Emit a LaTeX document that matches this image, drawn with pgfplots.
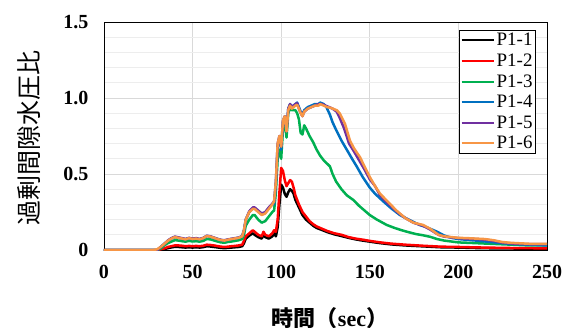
\documentclass[border=0pt]{standalone}
\usepackage{fontspec}
\setmainfont{Liberation Serif}
\newfontfamily\jp{Noto Sans CJK JP}
\usepackage{pgfplots}
\pgfplotsset{compat=1.18}
\definecolor{cgreen}{HTML}{00B050}
\definecolor{cblue}{HTML}{0070C0}
\definecolor{cpurple}{HTML}{7030A0}
\definecolor{corange}{HTML}{F79646}
\begin{document}
\begin{tikzpicture}[x=1pt,y=1pt]
\begin{axis}[
  at={(0,0)}, anchor=origin,
  scale only axis, width=443pt, height=228pt,
  xmin=0, xmax=250, ymin=0, ymax=1.5,
  xtick={0,50,...,250}, ytick={0,0.5,1.0,1.5},
  yticklabels={0,0.5,1.0,1.5},
  minor y tick num=4,
  xmajorgrids, ymajorgrids, yminorgrids,
  major grid style={draw=black!15, line width=0.8pt},
  minor grid style={draw=black!7, line width=0.8pt},
  major tick length=0pt, minor tick length=0pt,
  axis line style={black, line width=0.9pt},
  /pgf/number format/assume math mode=true,
  ticklabel style={font=\fontsize{20}{24}\selectfont\bfseries},
  yticklabel style={xshift=-12pt},
  xticklabel style={yshift=-12pt},
  scaled ticks=false,
  legend style={at={(0.975,0.965)}, anchor=north east, draw=black, line width=0.8pt,
    font=\fontsize{19}{20}\selectfont, inner sep=1pt, row sep=2.5pt},
  legend cell align=left,
  legend image code/.code={\draw[#1, line width=2pt] (0pt,0pt) -- (32pt,0pt);},
  every axis plot/.append style={line width=2.5pt, line join=round},
  clip=true,
]
% P1-1
\addplot[black] coordinates {
(0,0) (30,0) (32,0.003) (34,0.006) (36,0.012) (38,0.017) (40,0.021) (42,0.02) (44,0.018) (46,0.016) (48,0.018) (50,0.016) (52,0.018) (54,0.016) (56,0.019) (58,0.025) (60,0.023) (62,0.02) (64,0.017) (66,0.014) (68,0.012) (70,0.014) (72,0.016) (74,0.018) (76,0.02) (78,0.025) (79,0.045) (80,0.075) (82,0.095) (84,0.11) (85,0.1) (87,0.085) (89,0.075) (90,0.1) (91,0.085) (93,0.075) (95,0.09) (96,0.11) (97,0.09) (98,0.15) (99,0.3) (100,0.43) (101,0.41) (102,0.37) (103,0.35) (104,0.38) (105,0.4) (106,0.39) (107,0.37) (108,0.33) (110,0.28) (112,0.23) (114,0.2) (116,0.18) (118,0.16) (120,0.145) (123,0.132) (126,0.118) (130,0.103) (134,0.092) (138,0.08) (142,0.07) (146,0.062) (150,0.055) (156,0.045) (162,0.037) (170,0.03) (180,0.024) (190,0.018) (200,0.016) (210,0.013) (220,0.011) (230,0.01) (240,0.009) (250,0.008)
};
\addlegendentry{P1-1}
% P1-2
\addplot[red] coordinates {
(0,0) (30,0) (32,0.005) (34,0.01) (36,0.02) (38,0.025) (40,0.03) (42,0.03) (44,0.028) (46,0.025) (48,0.027) (50,0.025) (52,0.027) (54,0.025) (56,0.028) (58,0.035) (60,0.033) (62,0.03) (64,0.026) (66,0.022) (68,0.02) (70,0.022) (72,0.025) (74,0.027) (76,0.03) (78,0.035) (79,0.06) (80,0.09) (82,0.11) (84,0.13) (85,0.12) (87,0.1) (89,0.09) (90,0.12) (91,0.1) (93,0.09) (95,0.11) (96,0.13) (97,0.12) (98,0.2) (99,0.38) (100,0.54) (101,0.52) (102,0.46) (103,0.42) (104,0.44) (105,0.46) (106,0.45) (107,0.41) (108,0.36) (110,0.3) (112,0.25) (114,0.22) (116,0.19) (118,0.17) (120,0.155) (123,0.14) (126,0.125) (130,0.11) (134,0.1) (138,0.085) (142,0.075) (146,0.068) (150,0.06) (156,0.05) (162,0.042) (170,0.035) (180,0.028) (190,0.022) (200,0.02) (210,0.017) (220,0.015) (230,0.013) (240,0.012) (250,0.01)
};
\addlegendentry{P1-2}
% P1-3
\addplot[cgreen] coordinates {
(0,0) (30,0) (32,0.01) (34,0.03) (36,0.045) (38,0.055) (40,0.065) (42,0.062) (44,0.058) (46,0.055) (48,0.06) (50,0.056) (52,0.058) (54,0.055) (56,0.06) (58,0.072) (60,0.07) (62,0.063) (64,0.056) (66,0.05) (68,0.048) (70,0.053) (72,0.056) (74,0.06) (76,0.064) (78,0.072) (79,0.1) (80,0.16) (82,0.2) (84,0.23) (85,0.23) (87,0.2) (89,0.18) (91,0.19) (93,0.22) (95,0.25) (96,0.26) (97,0.38) (98,0.6) (99,0.66) (100,0.6) (101,0.8) (102,0.84) (103,0.74) (104,0.9) (105,0.93) (106,0.92) (108,0.92) (109,0.9) (110,0.86) (111,0.77) (112,0.76) (113,0.82) (114,0.8) (116,0.75) (118,0.71) (120,0.66) (122,0.62) (124,0.59) (127.5,0.55) (129,0.5) (131,0.45) (134,0.4) (137,0.36) (140.6,0.33) (144,0.29) (147,0.26) (150,0.23) (154,0.2) (159.5,0.165) (164,0.145) (168,0.13) (171,0.12) (176,0.105) (180,0.097) (184,0.087) (188,0.072) (192,0.062) (196,0.056) (200,0.05) (210,0.045) (220,0.04) (230,0.035) (240,0.03) (250,0.03)
};
\addlegendentry{P1-3}
% P1-4
\addplot[cblue] coordinates {
(0,0) (30,0) (32,0.02) (34,0.04) (36,0.06) (38,0.075) (40,0.085) (42,0.08) (44,0.075) (46,0.07) (48,0.078) (50,0.072) (52,0.075) (54,0.07) (56,0.078) (58,0.092) (60,0.088) (62,0.08) (64,0.072) (66,0.065) (68,0.062) (70,0.068) (72,0.072) (74,0.076) (76,0.08) (78,0.09) (79,0.13) (80,0.2) (82,0.25) (84,0.275) (85,0.275) (87,0.255) (89,0.235) (91,0.245) (93,0.275) (95,0.3) (96,0.3) (97,0.43) (98,0.68) (99,0.74) (100,0.66) (101,0.84) (102,0.88) (103,0.78) (104,0.93) (105,0.96) (106,0.94) (108,0.96) (109,0.97) (110,0.94) (111,0.91) (112,0.89) (113,0.92) (115,0.94) (117,0.95) (119,0.96) (121,0.96) (122,0.97) (124,0.96) (125.5,0.94) (127.5,0.89) (129,0.84) (131,0.79) (134,0.72) (137,0.66) (140,0.6) (142.6,0.55) (146,0.48) (150,0.41) (153,0.37) (157.6,0.32) (162,0.275) (167,0.23) (172,0.2) (178,0.165) (182,0.15) (188,0.12) (192,0.095) (196,0.08) (200,0.072) (210,0.062) (220,0.05) (230,0.04) (240,0.035) (250,0.03)
};
\addlegendentry{P1-4}
% P1-5
\addplot[cpurple] coordinates {
(0,0) (30,0) (32,0.02) (34,0.04) (36,0.062) (38,0.078) (40,0.088) (42,0.083) (44,0.078) (46,0.073) (48,0.08) (50,0.075) (52,0.078) (54,0.073) (56,0.08) (58,0.094) (60,0.09) (62,0.082) (64,0.074) (66,0.067) (68,0.064) (70,0.07) (72,0.074) (74,0.078) (76,0.082) (78,0.092) (79,0.13) (80,0.2) (82,0.255) (84,0.28) (85,0.28) (87,0.26) (89,0.24) (91,0.25) (93,0.28) (95,0.305) (96,0.32) (97,0.45) (98,0.7) (99,0.75) (100,0.68) (101,0.85) (102,0.88) (103,0.78) (104,0.93) (105,0.96) (106,0.94) (108,0.96) (109,0.965) (110,0.93) (111,0.9) (112,0.88) (113,0.91) (115,0.93) (117,0.94) (119,0.95) (121,0.96) (123,0.96) (125,0.95) (127,0.94) (129,0.93) (131.3,0.91) (133,0.87) (135.5,0.8) (138.3,0.7) (141,0.65) (144,0.59) (147,0.53) (150,0.465) (153,0.42) (155.8,0.36) (160,0.31) (165,0.255) (170,0.21) (174.5,0.18) (180,0.16) (184,0.135) (188.7,0.1) (192,0.088) (196,0.083) (200,0.078) (205,0.075) (210,0.072) (215,0.068) (220,0.06) (225,0.048) (230,0.043) (240,0.038) (250,0.038)
};
\addlegendentry{P1-5}
% P1-6
\addplot[corange] coordinates {
(0,0) (28,0) (30,0.005) (32,0.02) (34,0.04) (36,0.06) (38,0.075) (40,0.085) (42,0.08) (44,0.075) (46,0.07) (48,0.078) (50,0.072) (52,0.075) (54,0.07) (56,0.078) (58,0.092) (60,0.088) (62,0.08) (64,0.072) (66,0.065) (68,0.062) (70,0.068) (72,0.072) (74,0.076) (76,0.08) (78,0.09) (79,0.13) (80,0.2) (82,0.25) (84,0.27) (85,0.27) (87,0.25) (89,0.23) (91,0.24) (93,0.27) (95,0.3) (96,0.32) (97,0.45) (98,0.7) (99,0.75) (100,0.68) (101,0.85) (102,0.88) (103,0.78) (104,0.92) (105,0.95) (106,0.93) (108,0.95) (109,0.955) (110,0.93) (111,0.9) (112,0.88) (113,0.91) (115,0.93) (117,0.94) (119,0.95) (121,0.95) (122,0.96) (124,0.95) (126,0.94) (128,0.935) (131.3,0.92) (133,0.9) (136,0.83) (138.8,0.72) (141,0.67) (144.5,0.61) (147,0.55) (150,0.48) (153,0.42) (155.8,0.37) (160,0.32) (165,0.26) (170,0.21) (174.5,0.18) (180,0.165) (184,0.14) (188.7,0.1) (192,0.09) (196,0.085) (200,0.08) (205,0.078) (210,0.075) (215,0.072) (220,0.064) (225,0.052) (230,0.047) (240,0.041) (250,0.04)
};
\addlegendentry{P1-6}
\end{axis}
\node[rotate=90, font=\jp\fontsize{25}{26}\selectfont] at (-75pt,112pt) {過剰間隙水圧比};
\node[anchor=base, font=\fontsize{22}{24}\selectfont\bfseries] at (226pt,-76pt) {{\jp 時間（}sec{\jp ）}};
\pgfresetboundingbox
\useasboundingbox (-104pt,-77pt) rectangle (469pt,250pt);
\end{tikzpicture}
\end{document}
